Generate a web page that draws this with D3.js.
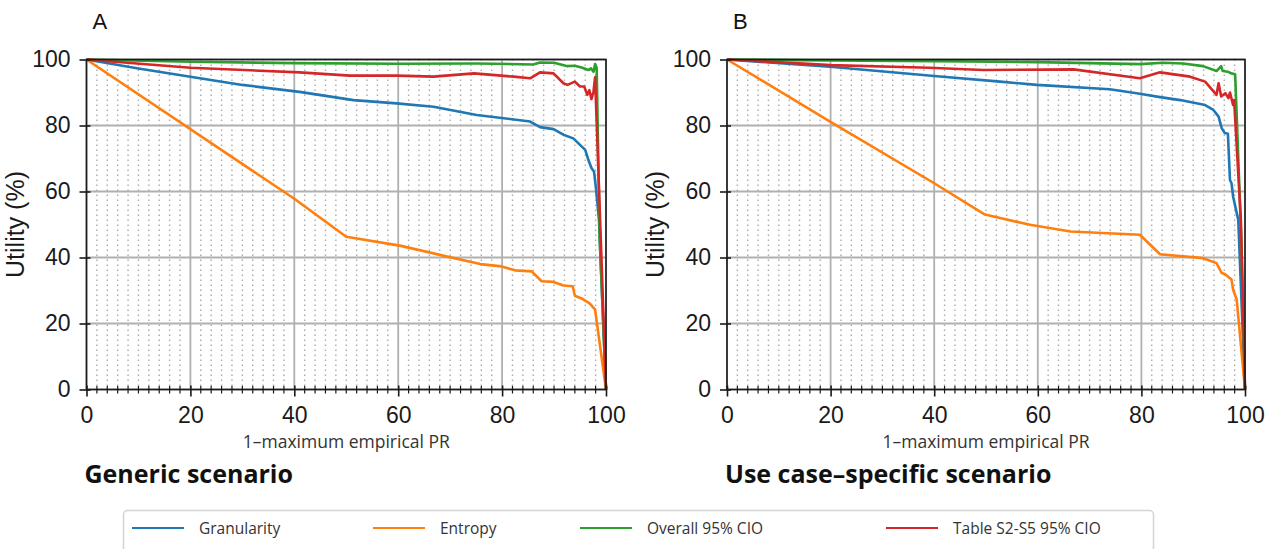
<!DOCTYPE html>
<html>
<head>
<meta charset="utf-8">
<script src="https://cdn.jsdelivr.net/npm/d3@7"></script>
<style>
  body { margin: 0; background: #fff; }
  svg { display: block; }
</style>
</head>
<body>
<svg id="chart"></svg>
<script>
const width = 1272;
const height = 549;

// data: [1-maximum empirical PR, utility %]
const seriesNames = ["Granularity", "Entropy", "Overall 95% CIO", "Table S2-S5 95% CIO"];
const seriesColors = ["#1f77b4", "#ff7f0e", "#2ca02c", "#d62728"];
const xTicks = [0, 20, 40, 60, 80, 100];
const yTicks = [0, 20, 40, 60, 80, 100];

const genGranularity = [[0,100],[10,97.3],[20,94.8],[30,92.3],[41,90.2],[51.4,87.7],[59.7,86.7],[66.8,85.7],[75.1,83.2],[85.4,81.2],[87.3,79.5],[89.9,78.9],[91.8,77.2],[93.7,76.1],[94.7,74.6],[96,72.6],[96.6,69.6],[97.2,67.1],[97.7,66],[98.1,60.5],[98.65,51.4],[100,0]];
const genEntropy = [[0,100],[40,57.8],[50,46.3],[60.3,43.6],[68,40.8],[75.8,38],[79.9,37.3],[82.5,36.1],[85.7,35.8],[87.6,32.8],[89.9,32.6],[91.8,31.5],[93.6,31.3],[94,28.4],[95.3,27.6],[96.9,26],[97.9,24.2],[100,0]];
const genOverall = [[0,100],[20,99.3],[40,98.9],[60,98.7],[75,98.8],[86,98.5],[87.3,99.1],[90,99],[92.4,98],[94,98.1],[95.3,97.6],[96.6,96.8],[97.1,97.3],[97.6,96.3],[97.9,98.6],[98.2,97.5],[98.8,45],[100,0]];
const genTable = [[0,100],[20,97.5],[41,96.1],[50.7,95.1],[59.7,95.1],[66.8,94.8],[74.6,95.8],[82.2,94.8],[85.4,94.3],[87.3,96.1],[89.9,95.8],[91.8,92.8],[92.6,92.3],[94,93.3],[95,91.8],[95.8,91.8],[96.4,89.3],[96.8,90.7],[97.2,88],[97.6,90.3],[97.9,94.6],[99,45.4],[100,0]];

const useGranularity = [[0,100],[19.9,97.8],[40,95],[52.7,93.3],[59.8,92.3],[73.9,91],[79.7,89.6],[83.6,88.6],[87.5,87.7],[92.3,86.2],[93.9,84.7],[94.9,82.7],[95.5,79.2],[96.1,77.7],[96.7,77.5],[97.1,63.5],[97.4,62.5],[97.7,58.5],[98.7,51.4],[100,0]];
const useEntropy = [[0,100],[19.9,81.2],[40,62.5],[49.8,53],[58.5,49.9],[66.3,47.9],[79.7,46.9],[83.6,41],[91.9,39.8],[94.5,38.3],[95.5,35.3],[96.1,35],[97.4,33.3],[97.7,30.3],[98.4,27.2],[100,0]];
const useOverall = [[0,100],[20,99.7],[40,99.5],[60,99.2],[79.7,98.6],[84.2,99],[88,98.8],[91.9,98],[94.5,96.5],[95.4,98],[95.7,96.5],[96.7,96.3],[97.3,95.8],[98.1,95.5],[99.3,45],[100,0]];
const useTable = [[0,100],[20,98.3],[39,97.5],[49.5,96.8],[66.9,97],[79.7,94.3],[83.6,96.1],[89.4,94.8],[92.3,93.3],[94.5,89.3],[94.9,92.8],[95.4,88.8],[96.2,89.8],[96.8,88.3],[97.1,90],[97.7,86.2],[97.9,87.7],[99.2,51.4],[100,0]];

const panels = [
  { letter: "A", title: "Generic scenario", left: 86.5, right: 606,
    series: [genGranularity, genEntropy, genOverall, genTable] },
  { letter: "B", title: "Use case\u2013specific scenario", left: 727, right: 1245,
    series: [useGranularity, useEntropy, useOverall, useTable] }
];
const plotTop = 59.5, plotBottom = 389.5;

const svg = d3.select("#chart")
  .attr("width", width)
  .attr("height", height)
  .attr("viewBox", `0 0 ${width} ${height}`);

svg.append("rect").attr("width", width).attr("height", height).attr("fill", "#fff");

panels.forEach(p => {
  const x = d3.scaleLinear().domain([0, 100]).range([p.left, p.right]);
  const y = d3.scaleLinear().domain([0, 100]).range([plotBottom, plotTop]);
  const g = svg.append("g");

  // minor vertical dotted grid every 2
  const minor = d3.range(2, 100, 2).filter(v => v % 20 !== 0);
  g.append("g").selectAll("line").data(minor).join("line")
    .attr("x1", d => x(d)).attr("x2", d => x(d))
    .attr("y1", plotTop).attr("y2", plotBottom)
    .attr("stroke", "#aaa").attr("stroke-width", 1.4)
    .attr("stroke-dasharray", "1.4,3.6");

  // major grid
  g.append("g").selectAll("line").data(xTicks).join("line")
    .attr("x1", d => x(d)).attr("x2", d => x(d))
    .attr("y1", plotTop).attr("y2", plotBottom)
    .attr("stroke", "#b0b0b0").attr("stroke-width", 1.8);
  g.append("g").selectAll("line").data(yTicks).join("line")
    .attr("x1", p.left).attr("x2", p.right)
    .attr("y1", d => y(d)).attr("y2", d => y(d))
    .attr("stroke", "#b0b0b0").attr("stroke-width", 1.8);

  // lines
  const line = d3.line().x(d => x(d[0])).y(d => y(d[1]));
  p.series.forEach((s, i) => {
    g.append("path").datum(s)
      .attr("d", line)
      .attr("fill", "none")
      .attr("stroke", seriesColors[i])
      .attr("stroke-width", 2.6)
      .attr("stroke-linejoin", "round");
  });

  // frame
  g.append("rect")
    .attr("x", p.left).attr("y", plotTop)
    .attr("width", p.right - p.left).attr("height", plotBottom - plotTop)
    .attr("fill", "none").attr("stroke", "#1a1a1a").attr("stroke-width", 1.6);

  // axes
  const xAxis = g.append("g").attr("transform", `translate(0,${plotBottom})`)
    .call(d3.axisBottom(x).tickValues(xTicks).tickSize(7).tickPadding(10));
  xAxis.select(".domain").remove();
  xAxis.selectAll(".tick line").attr("y1", -4).attr("stroke", "#1a1a1a").attr("stroke-width", 1.6);
  xAxis.selectAll(".tick text")
    .attr("font-family", "Liberation Sans, Arial, sans-serif")
    .attr("font-size", 23).attr("fill", "#1a1a1a");

  g.append("g").selectAll("line").data(minor).join("line")
    .attr("x1", d => x(d)).attr("x2", d => x(d))
    .attr("y1", plotBottom - 3.5).attr("y2", plotBottom + 4)
    .attr("stroke", "#1a1a1a").attr("stroke-width", 1.2);

  const yAxis = g.append("g").attr("transform", `translate(${p.left},0)`)
    .call(d3.axisLeft(y).tickValues(yTicks).tickSize(7).tickPadding(9));
  yAxis.select(".domain").remove();
  yAxis.selectAll(".tick line").attr("x1", 4).attr("stroke", "#1a1a1a").attr("stroke-width", 1.6);
  yAxis.selectAll(".tick text")
    .attr("font-family", "Liberation Sans, Arial, sans-serif")
    .attr("font-size", 23).attr("fill", "#1a1a1a");

  // labels
  svg.append("text")
    .attr("transform", `translate(${p.left - 63},${(plotTop + plotBottom) / 2}) rotate(-90)`)
    .attr("text-anchor", "middle")
    .attr("font-family", "Liberation Sans, Arial, sans-serif")
    .attr("font-size", 25).attr("fill", "#1a1a1a")
    .text("Utility (%)");

  svg.append("text")
    .attr("x", (p.left + p.right) / 2).attr("y", 448)
    .attr("text-anchor", "middle")
    .attr("font-family", "Open Sans, Noto Sans, sans-serif")
    .attr("font-size", 17.5).attr("fill", "#333")
    .text("1\u2013maximum empirical PR");

  svg.append("text")
    .attr("x", p.left + 6).attr("y", 29)
    .attr("font-family", "Liberation Sans, Arial, sans-serif")
    .attr("font-size", 22).attr("fill", "#111")
    .text(p.letter);

  svg.append("text")
    .attr("x", p.left - 2).attr("y", 483)
    .attr("font-family", "Open Sans, Noto Sans, sans-serif")
    .attr("font-weight", "bold")
    .attr("font-size", 25).attr("fill", "#111")
    .text(p.title);
});

// legend
const legendX = [132, 373, 580, 886];
const legend = svg.append("g");
legend.append("rect")
  .attr("x", 123.5).attr("y", 510.5)
  .attr("width", 1030).attr("height", 60)
  .attr("rx", 4)
  .attr("fill", "#fff").attr("stroke", "#d4d4d4").attr("stroke-width", 1.5);
const items = legend.selectAll("g.item").data(seriesNames).join("g")
  .attr("class", "item")
  .attr("transform", (d, i) => `translate(${legendX[i]},528)`);
items.append("line")
  .attr("x1", 0).attr("x2", 52)
  .attr("stroke", (d, i) => seriesColors[i]).attr("stroke-width", 2.2);
items.append("text")
  .attr("x", 67).attr("y", 5.5)
  .attr("font-family", "Open Sans, Noto Sans, sans-serif")
  .attr("font-size", 15.5).attr("fill", "#333")
  .text(d => d);
</script>
</body>
</html>
